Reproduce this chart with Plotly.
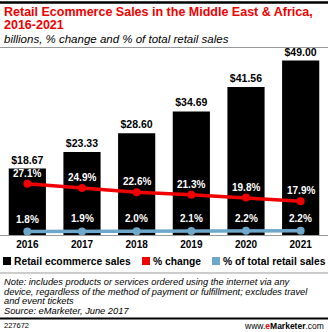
import plotly.graph_objects as go

years = ["2016", "2017", "2018", "2019", "2020", "2021"]
sales = [18.67, 23.33, 28.60, 34.69, 41.56, 49.00]
pct_change = [27.1, 24.9, 22.6, 21.3, 19.8, 17.9]
pct_total = [1.8, 1.9, 2.0, 2.1, 2.2, 2.2]

W, H = 328, 332
TOP, BASE = 55, 235
PH = BASE - TOP
RED = "#F00000"
BLUE = "#6DA8CA"
FONT = "Liberation Sans"

def px(x):
    return x / W

def py(y):
    return (BASE - y) / PH

fig = go.Figure()
fig.add_trace(go.Bar(
    x=years, y=sales, marker=dict(color="black", line=dict(width=0)), width=0.68,
    text=[f"${v:.2f}" for v in sales], textposition="outside", cliponaxis=False,
    constraintext="none",
    textfont=dict(family=FONT, size=10.5, color="black", weight="bold"),
    showlegend=False, yaxis="y",
))
fig.add_trace(go.Scatter(
    x=years, y=pct_change, mode="lines+markers",
    line=dict(color=RED, width=3.5), marker=dict(color=RED, size=8),
    showlegend=False, yaxis="y2", cliponaxis=False,
))
fig.add_trace(go.Scatter(
    x=years, y=pct_total, mode="lines+markers",
    line=dict(color=BLUE, width=3.5), marker=dict(color=BLUE, size=8),
    showlegend=False, yaxis="y2", cliponaxis=False,
))

shapes = [
    dict(type="line", xref="paper", yref="paper", x0=0, x1=1, y0=py(2.5), y1=py(2.5),
         line=dict(color="black", width=2.5)),
    dict(type="line", xref="paper", yref="paper", x0=0, x1=1, y0=py(47.5), y1=py(47.5),
         line=dict(color="#999999", width=1)),
    dict(type="line", xref="paper", yref="paper", x0=0, x1=1, y0=py(273), y1=py(273),
         line=dict(color="#999999", width=1)),
    dict(type="line", xref="paper", yref="paper", x0=0, x1=1, y0=py(318.5), y1=py(318.5),
         line=dict(color="black", width=2)),
]
# legend swatches
for x0, col in [(3, "black"), (142, RED), (212, BLUE)]:
    shapes.append(dict(type="rect", xref="paper", yref="paper",
                       x0=px(x0), x1=px(x0 + 8), y0=py(265), y1=py(257),
                       fillcolor=col, line=dict(width=0)))

ann = []
# point labels for the two percentage series (x given as category index)
for vals, shift in [(pct_change, 3), (pct_total, 5)]:
    for i, v in enumerate(vals):
        ann.append(dict(xref="x", yref="y2", x=i, y=v, text=f"{v:.1f}%", showarrow=False,
                        yshift=shift, yanchor="bottom", xanchor="center",
                        font=dict(family=FONT, size=10, color="white", weight="bold")))

def text(x, y, s, size, bold=False, italic=False, color="black", xanchor="left"):
    ann.append(dict(xref="paper", yref="paper", x=px(x), y=py(y), text=s, showarrow=False,
                    xanchor=xanchor, yanchor="middle",
                    font=dict(family=FONT, size=size, color=color,
                              weight="bold" if bold else "normal",
                              style="italic" if italic else "normal")))

text(2, 12.5, "Retail Ecommerce Sales in the Middle East & Africa,", 12.5, bold=True, color=RED)
text(2, 25, "2016-2021", 12.5, bold=True, color=RED)
text(2, 38.5, "billions, % change and % of total retail sales", 11.5, italic=True)
text(12, 261, "Retail ecommerce sales", 10.3, bold=True)
text(151, 261, "% change", 10.3, bold=True)
text(221, 261, "% of total retail sales", 10.3, bold=True)
notes = [
    "Note: includes products or services ordered using the internet via any",
    "device, regardless of the method of payment or fulfillment; excludes travel",
    "and event tickets",
    "Source: eMarketer, June 2017",
]
for i, s in enumerate(notes):
    text(2, 282 + i * 9.7, s, 9.3, italic=True)
text(2, 325.5, "227672", 7.5)
text(326, 325.5, "www.<span style='color:#F00000'><b>e</b></span><b>Marketer</b>.com", 8.5, xanchor="right")

fig.update_layout(
    width=W, height=H, margin=dict(l=0, r=0, t=TOP, b=H - BASE),
    paper_bgcolor="white", plot_bgcolor="white",
    bargap=0.32,
    xaxis=dict(type="category", range=[-0.5, 5.5], showline=True, linecolor="#999999",
               linewidth=1, showgrid=False, ticks="",
               tickfont=dict(family=FONT, size=10, color="black", weight="bold")),
    yaxis=dict(range=[0, PH / 3.561], visible=False, showgrid=False),
    yaxis2=dict(range=[0, PH / 1.89], visible=False, showgrid=False, overlaying="y"),
    shapes=shapes, annotations=ann, showlegend=False,
)
fig.write_html("out.html")
